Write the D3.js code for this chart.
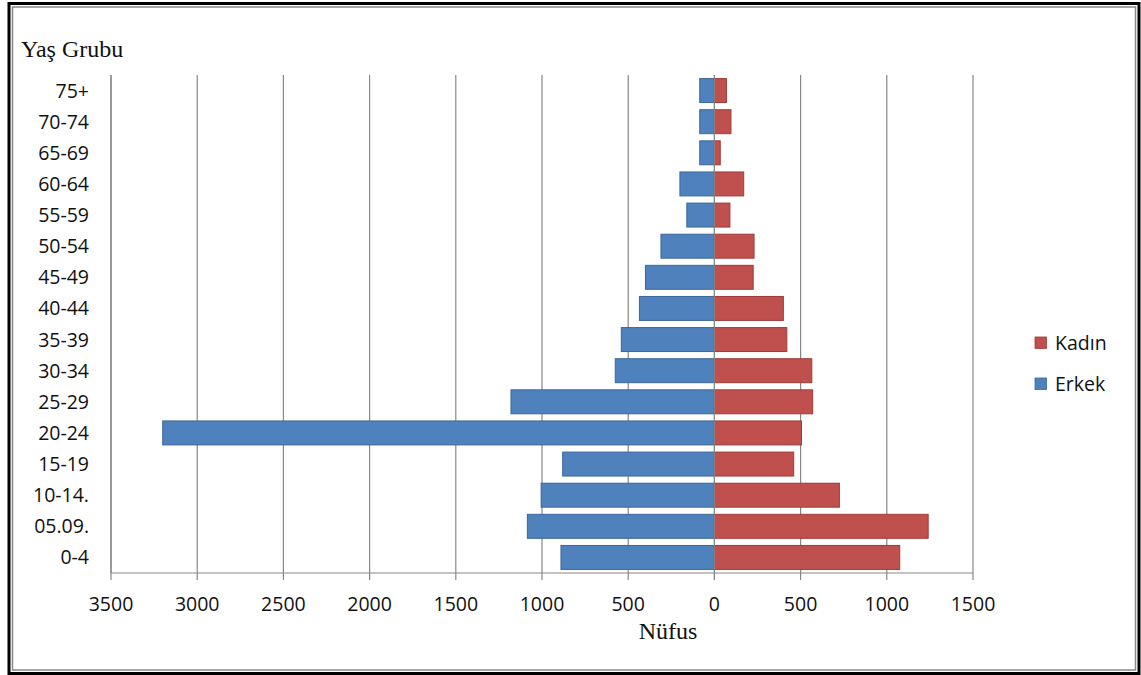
<!DOCTYPE html>
<html>
<head>
<meta charset="utf-8">
<script src="https://cdn.jsdelivr.net/npm/d3@7"></script>
<style>
  html, body { margin: 0; padding: 0; background: #fff; }
  svg { display: block; }
</style>
</head>
<body>
<svg id="chart" width="1141" height="675"></svg>
<script>
const ageGroups = ["75+","70-74","65-69","60-64","55-59","50-54","45-49","40-44","35-39","30-34","25-29","20-24","15-19","10-14.","05.09.","0-4"];
const erkek = [85, 85, 85, 200, 160, 310, 400, 435, 540, 575, 1180, 3200, 880, 1005, 1085, 890];
const kadin = [70, 96, 34, 170, 90, 230, 225, 400, 420, 565, 570, 505, 460, 725, 1240, 1075];
const xTicks = [-3500, -3000, -2500, -2000, -1500, -1000, -500, 0, 500, 1000, 1500];
const seriesNames = ["Kadın", "Erkek"];
const seriesColors = ["#C0504D", "#4F81BD"];
const seriesStrokes = ["#9E3B38", "#3B679C"];

const svg = d3.select("#chart");

// Frame
svg.append("rect").attr("x", 9).attr("y", 3.5).attr("width", 1130).attr("height", 670)
  .attr("fill", "none").attr("stroke", "#000").attr("stroke-width", 3);
svg.append("rect").attr("x", 12.5).attr("y", 7).attr("width", 1123).attr("height", 663)
  .attr("fill", "none").attr("stroke", "#888").attr("stroke-width", 1.5);

const x = d3.scaleLinear().domain([-3500, 1500]).range([111, 973]);
const y = d3.scaleBand().domain(ageGroups).range([75, 573]).paddingInner(0.23).paddingOuter(0.115);

// Gridlines (incl. tick extension)
svg.append("g").selectAll("line").data(xTicks).join("line")
  .attr("x1", d => x(d)).attr("x2", d => x(d))
  .attr("y1", 75).attr("y2", 580)
  .attr("stroke", "#878787").attr("stroke-width", 1.2);

// Bottom axis line
svg.append("line").attr("x1", x(-3500)).attr("x2", x(1500)).attr("y1", 573).attr("y2", 573)
  .attr("stroke", "#878787").attr("stroke-width", 1.2);

// Bars
const rows = ageGroups.map((g, i) => ({ g, e: erkek[i], k: kadin[i] }));
svg.append("g").selectAll("rect").data(rows).join("rect")
  .attr("x", d => x(-d.e)).attr("y", d => y(d.g))
  .attr("width", d => x(0) - x(-d.e)).attr("height", y.bandwidth())
  .attr("fill", seriesColors[1]).attr("stroke", seriesStrokes[1]).attr("stroke-width", 1);
svg.append("g").selectAll("rect").data(rows).join("rect")
  .attr("x", x(0)).attr("y", d => y(d.g))
  .attr("width", d => x(d.k) - x(0)).attr("height", y.bandwidth())
  .attr("fill", seriesColors[0]).attr("stroke", seriesStrokes[0]).attr("stroke-width", 1);

// zero line over bars
svg.append("line").attr("x1", x(0)).attr("x2", x(0)).attr("y1", 75).attr("y2", 580)
  .attr("stroke", "#8a8a8a").attr("stroke-width", 1.2).attr("opacity", 0.8);

// Left axis line
svg.append("line").attr("x1", 111).attr("x2", 111).attr("y1", 75).attr("y2", 573)
  .attr("stroke", "#878787").attr("stroke-width", 1.2);

// Category labels
svg.append("g").selectAll("text").data(ageGroups).join("text")
  .attr("x", 89).attr("y", d => y(d) + y.bandwidth() / 2)
  .attr("dy", "0.36em")
  .attr("text-anchor", "end")
  .attr("font-family", "'Open Sans', sans-serif").attr("font-size", 19.5)
  .attr("fill", "#111")
  .text(d => d);

// Tick labels
svg.append("g").selectAll("text").data(xTicks).join("text")
  .attr("x", d => x(d)).attr("y", 611)
  .attr("text-anchor", "middle")
  .attr("font-family", "'Open Sans', sans-serif").attr("font-size", 19.5)
  .attr("fill", "#111")
  .text(d => Math.abs(d));

// Axis titles
svg.append("text").attr("x", 668).attr("y", 639).attr("text-anchor", "middle")
  .attr("font-family", "'Liberation Serif', serif").attr("font-size", 24).attr("fill", "#111")
  .text("Nüfus");
svg.append("text").attr("x", 21).attr("y", 57)
  .attr("font-family", "'Liberation Serif', serif").attr("font-size", 24).attr("fill", "#111")
  .text("Yaş Grubu");

// Legend
const legend = svg.append("g").selectAll("g").data(seriesNames).join("g")
  .attr("transform", (d, i) => `translate(1035, ${343 + i * 41})`);
legend.append("rect").attr("x", 0).attr("y", -6).attr("width", 11.5).attr("height", 11.5)
  .attr("fill", (d, i) => seriesColors[i]).attr("stroke", (d, i) => seriesStrokes[i]).attr("stroke-width", 0.8);
legend.append("text").attr("x", 20).attr("y", 0).attr("dy", "0.36em")
  .attr("font-family", "'Open Sans', sans-serif").attr("font-size", 19.5).attr("fill", "#111")
  .text(d => d);
</script>
</body>
</html>
